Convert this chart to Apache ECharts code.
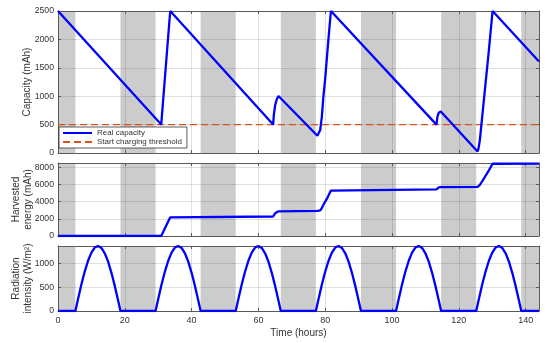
<!DOCTYPE html>
<html>
<head>
<meta charset="utf-8">
<script src="https://cdn.jsdelivr.net/npm/echarts@6/dist/echarts.min.js"></script>
<style>html,body{margin:0;padding:0;background:#fff}#c{width:550px;height:343px}</style>
</head>
<body>
<div id="c"></div>
<script>
// ---- data ----
const nightIntervals = [[0,5.2],[18.7,29.2],[42.7,53.2],[66.7,77.2],[90.7,101.2],[114.7,125.2],[138.7,144]];
const threshold = 500;
const capacityData = [
  [0,2500],[30.9,500],[31.6,1020],[32.3,1540],[33.0,2060],[33.6,2500],
  [64.4,500],[64.6,660],[65.0,840],[65.5,945],[66.0,1003],[66.3,1015],
  [77.66,303],[78.0,330],[78.5,407],[79.0,642],[79.45,993],[79.96,1286],[80.8,1890],[81.7,2500],
  [113.3,500],[113.6,640],[114.0,710],[114.6,730],
  [125.6,28],[125.9,80],[126.3,232],[126.8,526],[127.3,818],[127.8,1111],[129.0,1810],[130.1,2500],
  [144,1610]
];
const harvestedData = [
  [0,0],[30.9,0],[33.6,2180],[64.4,2270],[64.6,2440],[65.0,2640],[65.5,2780],[66.0,2870],[66.3,2900],
  [77.66,2930],[78.0,2960],[78.5,2990],[79.0,3256],[79.45,3636],[79.96,3963],[80.8,4560],[81.7,5290],
  [113.3,5420],[113.6,5580],[114.0,5660],[114.6,5690],
  [125.6,5710],[125.9,5770],[126.3,5950],[126.8,6260],[127.3,6570],[127.8,6880],[129.0,7640],[130.1,8410],
  [144,8420]
];
const radiationData = [
  [0,0],[5.2,0],[6,252],[7,553],[8,825],[9,1052],[10,1222],[11,1327],[12,1360],[13,1319],[14,1208],[15,1032],[16,799],[17,525],[18,221],[18.7,0],
  [29.2,0],[30,252],[31,553],[32,825],[33,1052],[34,1222],[35,1327],[36,1360],[37,1319],[38,1208],[39,1032],[40,799],[41,525],[42,221],[42.7,0],
  [53.2,0],[54,252],[55,553],[56,825],[57,1052],[58,1222],[59,1327],[60,1360],[61,1319],[62,1208],[63,1032],[64,799],[65,525],[66,221],[66.7,0],
  [77.2,0],[78,252],[79,553],[80,825],[81,1052],[82,1222],[83,1327],[84,1360],[85,1319],[86,1208],[87,1032],[88,799],[89,525],[90,221],[90.7,0],
  [101.2,0],[102,252],[103,553],[104,825],[105,1052],[106,1222],[107,1327],[108,1360],[109,1319],[110,1208],[111,1032],[112,799],[113,525],[114,221],[114.7,0],
  [125.2,0],[126,252],[127,553],[128,825],[129,1052],[130,1222],[131,1327],[132,1360],[133,1319],[134,1208],[135,1032],[136,799],[137,525],[138,221],[138.7,0],
  [144,0]
];
const xRange = [0,144], xStep = 20;
const capRange = [0,2500], capStep = 500;
const harvRange = [0,8500], harvStep = 2000;
const radRange = [0,1360], radStep = 500;

// ---- styling ----
const FONT = 'Liberation Sans, Arial, Helvetica, sans-serif';
const TXT = '#333333';
const AX = '#5a5a5a';
const GRIDC = 'rgba(38,38,38,0.14)';
const BLUE = '#0000ff';
const ORANGE = '#D95319';

const grids = [
  {left:58, top:11, width:481, height:142, outerBoundsMode:'none', containLabel:false},
  {left:58, top:163, width:481, height:73, outerBoundsMode:'none', containLabel:false},
  {left:58, top:246, width:481, height:65, outerBoundsMode:'none', containLabel:false}
];

const plain = v => String(v);

function xAx(gi, main, labels, name) {
  return {
    type:'value', gridIndex:gi, position: main ? 'bottom' : 'top',
    min:xRange[0], max:xRange[1], interval:xStep, z:3,
    axisLine:{show:true, onZero:false, lineStyle:{color:AX, width:1}},
    axisTick:{show:true, inside:true, length:3, lineStyle:{color:AX}},
    axisLabel:{show: labels, color:TXT, fontSize:9, fontFamily:FONT, margin:5, showMaxLabel:false, formatter:plain},
    splitLine:{show: main, lineStyle:{color:GRIDC, width:1}},
    name: name || '', nameLocation:'middle', nameGap:17, nameMoveOverlap:false,
    nameTextStyle:{color:TXT, fontSize:10, fontFamily:FONT}
  };
}
function yAx(gi, main, range, step, name, gap) {
  return {
    type:'value', gridIndex:gi, position: main ? 'left' : 'right',
    min:range[0], max:range[1], interval:step, z:3,
    axisLine:{show:true, onZero:false, lineStyle:{color:AX, width:1}},
    axisTick:{show:true, inside:true, length:3, lineStyle:{color:AX}},
    axisLabel:{show: main, color:TXT, fontSize:8.7, fontFamily:FONT, margin:4, showMaxLabel: range[1] % step === 0, formatter:plain},
    splitLine:{show: main, lineStyle:{color:GRIDC, width:1}},
    name: name || '', nameLocation:'middle', nameRotate:90, nameGap: gap || 0, nameMoveOverlap:false,
    nameTextStyle:{color:TXT, fontSize:10, fontFamily:FONT, lineHeight:11.5, align:'center'}
  };
}

function shade(gi) {
  return {
    type:'line', xAxisIndex:gi*2, yAxisIndex:gi*2, z:1, silent:true,
    data:[[0,0]], symbol:'none', lineStyle:{opacity:0},
    markArea:{silent:true, itemStyle:{color:'#cccccc'},
      data: nightIntervals.map(iv => [{xAxis:iv[0]},{xAxis:iv[1]}])}
  };
}

const option = {
  animation:false,
  backgroundColor:'#ffffff',
  grid: grids,
  textStyle:{fontFamily:FONT},
  xAxis:[
    xAx(0,true,false), xAx(0,false,false),
    xAx(1,true,false), xAx(1,false,false),
    xAx(2,true,true,'Time (hours)'), xAx(2,false,false)
  ],
  yAxis:[
    yAx(0,true,capRange,capStep,'Capacity (mAh)',25), yAx(0,false,capRange,capStep),
    yAx(1,true,harvRange,harvStep,'Harvested\nenergy (mAh)',24.5), yAx(1,false,harvRange,harvStep),
    yAx(2,true,radRange,radStep,'Radiation\nintensity (W/m²)',24.5), yAx(2,false,radRange,radStep)
  ],
  legend:{
    data:['Real capacity','Start charging threshold'],
    orient:'vertical', left:59, top:127,
    backgroundColor:'#ffffff', borderColor:'#333333', borderWidth:0.8,
    padding:[2,5,2,3], itemWidth:29, itemHeight:10, itemGap:1,
    itemStyle:{opacity:0},
    textStyle:{color:TXT, fontSize:8, fontFamily:FONT},
    z:10
  },
  series:[
    shade(0), shade(1), shade(2),
    {name:'Start charging threshold', type:'line', xAxisIndex:0, yAxisIndex:0, z:5,
      data:[[xRange[0],threshold],[xRange[1],threshold]], symbol:'none',
      lineStyle:{color:ORANGE, width:1.2, type:[7,4]}, itemStyle:{color:ORANGE}},
    {name:'Real capacity', type:'line', xAxisIndex:0, yAxisIndex:0, z:6,
      data:capacityData, symbol:'none',
      lineStyle:{color:BLUE, width:2.3}, itemStyle:{color:BLUE}},
    {name:'Harvested energy', type:'line', xAxisIndex:2, yAxisIndex:2, z:6,
      data:harvestedData, symbol:'none',
      lineStyle:{color:BLUE, width:2.3}, itemStyle:{color:BLUE}},
    {name:'Radiation intensity', type:'line', xAxisIndex:4, yAxisIndex:4, z:6,
      data:radiationData, symbol:'none',
      lineStyle:{color:BLUE, width:2.3}, itemStyle:{color:BLUE}}
  ]
};
const chart = echarts.init(document.getElementById('c'), null, {renderer:'canvas'});
chart.setOption(option);
</script>
</body>
</html>
